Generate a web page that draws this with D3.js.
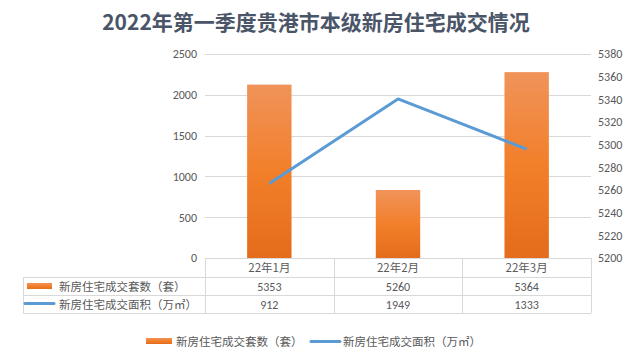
<!DOCTYPE html>
<html><head><meta charset="utf-8">
<script src="https://cdn.jsdelivr.net/npm/d3@7"></script>
<style>body{margin:0;background:#fff}svg{display:block}</style>
</head><body>
<script>
const title = "2022年第一季度贵港市本级新房住宅成交情况";
const categories = ["22年1月","22年2月","22年3月"];
const barName = "新房住宅成交套数（套）";
const lineName = "新房住宅成交面积（万㎡）";
const barValues = [5353, 5260, 5364];
const lineValues = [912, 1949, 1333];
const leftTicks = [0,500,1000,1500,2000,2500];
const rightTicks = [5200,5220,5240,5260,5280,5300,5320,5340,5360,5380];

const W=633,H=360;
const font = "Calibri, Carlito, 'Noto Sans CJK SC', sans-serif";
const svg = d3.select("body").append("svg").attr("width",W).attr("height",H).style("font-family",font);
const defs = svg.append("defs");
const grad = defs.append("linearGradient").attr("id","bg").attr("x1",0).attr("y1",0).attr("x2",0).attr("y2",1);
grad.append("stop").attr("offset","0%").attr("stop-color","#F0935A");
grad.append("stop").attr("offset","50%").attr("stop-color","#F27F2A");
grad.append("stop").attr("offset","100%").attr("stop-color","#E46C1C");

const L=205,R=591,T=54,B=258;
const x = d3.scaleBand().domain(categories).range([L,R]).padding(0);
const yL = d3.scaleLinear().domain([0,2500]).range([B,T]);
const yR = d3.scaleLinear().domain([5200,5380]).range([B,T]);
const txt="#595959";
const fmt = d3.format("d");

svg.append("text").attr("x",316).attr("y",30).attr("text-anchor","middle")
  .attr("font-size",21).attr("font-weight","bold").attr("fill","#4A5568")
  .style("font-family","'Noto Sans CJK SC', sans-serif").text(title);

// grid
svg.append("g").selectAll("line").data(leftTicks.slice(1)).join("line")
  .attr("x1",L).attr("x2",R).attr("y1",d=>Math.round(yL(d))+0.5).attr("y2",d=>Math.round(yL(d))+0.5)
  .attr("stroke","#D9D9D9").attr("stroke-width",1);

// axes
const ga = svg.append("g").attr("transform",`translate(${L-8},0)`)
  .call(d3.axisLeft(yL).tickValues(leftTicks).tickFormat(fmt).tickSize(0).tickPadding(0));
ga.select(".domain").remove();
ga.selectAll("text").attr("fill",txt).attr("font-size",12).style("font-family",font);
const gr = svg.append("g").attr("transform",`translate(${R+7},0)`)
  .call(d3.axisRight(yR).tickValues(rightTicks).tickFormat(fmt).tickSize(0).tickPadding(0));
gr.select(".domain").remove();
gr.selectAll("text").attr("fill",txt).attr("font-size",12).style("font-family",font);

// bars
const bw = x.bandwidth()*0.345;
svg.append("g").selectAll("rect").data(barValues).join("rect")
  .attr("x",(d,i)=>x(categories[i])+x.bandwidth()/2-bw/2)
  .attr("width",bw).attr("y",d=>yR(d)).attr("height",d=>B-yR(d))
  .attr("fill","url(#bg)");

// line
const line = d3.line().x((d,i)=>x(categories[i])+x.bandwidth()/2).y(d=>yL(d));
svg.append("path").datum(lineValues).attr("d",line).attr("fill","none")
  .attr("stroke","#5B9BD5").attr("stroke-width",3).attr("stroke-linejoin","round");

// data table
const rows=[258,277,295,313];
const tl = svg.append("g").attr("stroke","#D9D9D9").attr("stroke-width",1);
tl.append("line").attr("x1",L).attr("x2",R).attr("y1",rows[0]+0.5).attr("y2",rows[0]+0.5);
[1,2,3].forEach(k=>tl.append("line").attr("x1",23).attr("x2",R).attr("y1",rows[k]+0.5).attr("y2",rows[k]+0.5));
tl.append("line").attr("x1",23.5).attr("x2",23.5).attr("y1",rows[1]).attr("y2",rows[3]);
categories.concat([null]).forEach((c,i)=>{
  const xx = c ? x(c) : R;
  tl.append("line").attr("x1",Math.round(xx)+0.5).attr("x2",Math.round(xx)+0.5).attr("y1",rows[0]).attr("y2",rows[3]);
});
const tt = svg.append("g").attr("font-size",12).attr("fill",txt).attr("text-anchor","middle");
categories.forEach((c,i)=>{
  const cx = x(c)+x.bandwidth()/2;
  tt.append("text").attr("x",cx).attr("y",272).style("font-family","'Noto Sans CJK SC', sans-serif").attr("font-size",11.5).text(c);
  tt.append("text").attr("x",cx).attr("y",291).text(barValues[i]);
  tt.append("text").attr("x",cx).attr("y",309).text(lineValues[i]);
});
// table legend keys
svg.append("rect").attr("x",27).attr("y",283).attr("width",25).attr("height",6).attr("fill","url(#bg)");
svg.append("line").attr("x1",25).attr("x2",54).attr("y1",303.5).attr("y2",303.5).attr("stroke","#5B9BD5").attr("stroke-width",3).attr("stroke-linecap","round");
const cj = "'Noto Sans CJK SC', sans-serif";
svg.append("text").attr("x",59).attr("y",290.5).attr("font-size",11.5).attr("fill",txt).style("font-family",cj).text(barName);
svg.append("text").attr("x",59).attr("y",308.5).attr("font-size",11.5).attr("fill",txt).style("font-family",cj).text(lineName);

// bottom legend
svg.append("rect").attr("x",146).attr("y",338).attr("width",26).attr("height",6).attr("fill","url(#bg)");
svg.append("text").attr("x",176).attr("y",345.5).attr("font-size",11.5).attr("fill",txt).style("font-family",cj).text(barName);
svg.append("line").attr("x1",311).attr("x2",340).attr("y1",341.5).attr("y2",341.5).attr("stroke","#5B9BD5").attr("stroke-width",3).attr("stroke-linecap","round");
svg.append("text").attr("x",343).attr("y",345.5).attr("font-size",11.5).attr("fill",txt).style("font-family",cj).text(lineName);
</script>
</body></html>
